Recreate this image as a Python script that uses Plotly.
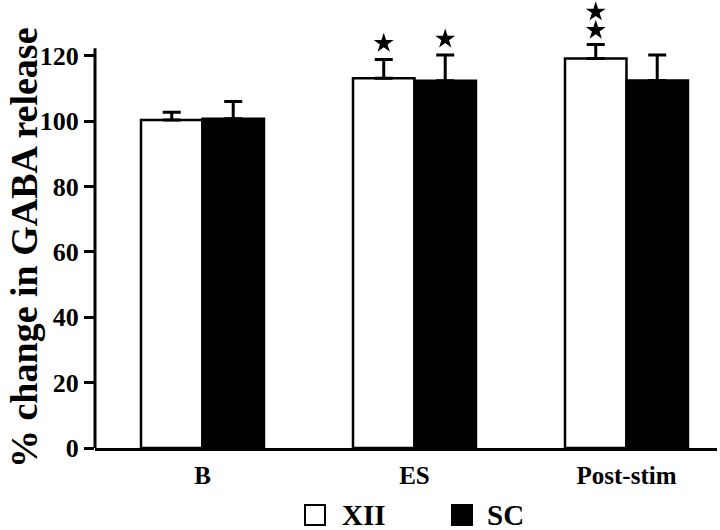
import plotly.graph_objects as go

categories = ["B", "ES", "Post-stim"]
series_names = ["XII", "SC"]
xii_values = [100.3, 113.1, 119.1]
xii_errors = [2.4, 5.7, 4.3]
sc_values = [100.7, 112.3, 112.4]
sc_errors = [5.3, 7.9, 7.8]
y_ticks = [0, 20, 40, 60, 80, 100, 120]
y_title = "% change in GABA release"

# significance stars: (category index, series, y level)
star_cat = [1, 1, 2, 2]
star_series = ["XII", "SC", "XII", "XII"]
star_y = [123.8, 125.1, 127.8, 133.4]

W, H = 720, 530
ML, MR, MT, MB = 95, 3, 5, 82
PW, PH = W - ML - MR, H - MT - MB
BAR_W = 0.29
Y_MAX = 135.5
AXIS_TOP = 122.3

FONT = "Liberation Serif, Times New Roman, serif"

def px_x(p):
    return (p - ML) / PW

def px_y(p):
    return (H - MB - p) / PH

xs = list(range(len(categories)))

fig = go.Figure()
fig.add_trace(go.Bar(
    x=xs, y=xii_values, name=series_names[0], width=BAR_W, offset=-BAR_W,
    marker=dict(color="white", line=dict(color="black", width=2.5)),
    error_y=dict(type="data", symmetric=False, array=xii_errors,
                 arrayminus=[0] * len(xii_errors), color="black",
                 thickness=3, width=9),
    showlegend=False,
))
fig.add_trace(go.Bar(
    x=xs, y=sc_values, name=series_names[1], width=BAR_W, offset=0,
    marker=dict(color="black", line=dict(color="black", width=2.5)),
    error_y=dict(type="data", symmetric=False, array=sc_errors,
                 arrayminus=[0] * len(sc_errors), color="black",
                 thickness=3, width=9),
    showlegend=False,
))

star_x = [c - BAR_W / 2 if s == "XII" else c + BAR_W / 2
          for c, s in zip(star_cat, star_series)]
fig.add_trace(go.Scatter(
    x=star_x, y=star_y, mode="markers",
    marker=dict(symbol="star", size=15, color="black"),
    showlegend=False, cliponaxis=False,
))

# y-axis line (stops at ~122)
fig.add_shape(type="line", xref="paper", yref="y", x0=0, x1=0,
              y0=0, y1=AXIS_TOP, line=dict(color="black", width=3))

# y title
fig.add_annotation(
    text=y_title, textangle=-90, xref="paper", yref="paper",
    x=px_x(24), y=px_y(248), xanchor="center", yanchor="middle",
    showarrow=False,
    font=dict(family=FONT, size=38, color="black", weight="bold"),
)

# manual legend
legend_fill = ["white", "black"]
legend_sq_x = [315, 462]
legend_txt_x = [340, 485]
legend_y = 515
for name, fill, sx, tx in zip(series_names, legend_fill, legend_sq_x, legend_txt_x):
    fig.add_shape(type="rect", xref="paper", yref="paper",
                  xsizemode="pixel", ysizemode="pixel",
                  xanchor=px_x(sx), yanchor=px_y(legend_y),
                  x0=-10, x1=10, y0=-10, y1=10,
                  fillcolor=fill, line=dict(color="black", width=2))
    fig.add_annotation(
        text=name, xref="paper", yref="paper", x=px_x(tx), y=px_y(legend_y),
        xanchor="left", yanchor="middle", showarrow=False,
        font=dict(family=FONT, size=29, color="black", weight="bold"),
    )

fig.update_layout(
    width=W, height=H,
    margin=dict(l=ML, r=MR, t=MT, b=MB),
    paper_bgcolor="white", plot_bgcolor="white",
    showlegend=False,
    font=dict(family=FONT, color="black", weight="bold"),
    xaxis=dict(
        range=[-0.507, 2.427], tickvals=xs, ticktext=categories,
        showline=True, linecolor="black", linewidth=3,
        ticks="", showgrid=False, zeroline=False, ticklabelstandoff=3,
        tickfont=dict(family=FONT, size=25, color="black", weight="bold"),
    ),
    yaxis=dict(
        range=[0, Y_MAX], tickvals=y_ticks,
        showline=False, ticks="outside", ticklen=10, tickwidth=2.5,
        tickcolor="black", showgrid=False, zeroline=False,
        tickfont=dict(family=FONT, size=26, color="black", weight="bold"),
    ),
)

fig.write_html("out.html",
               config={"displayModeBar": False},
               post_script="document.body.style.margin='0';document.body.style.padding='0';")
